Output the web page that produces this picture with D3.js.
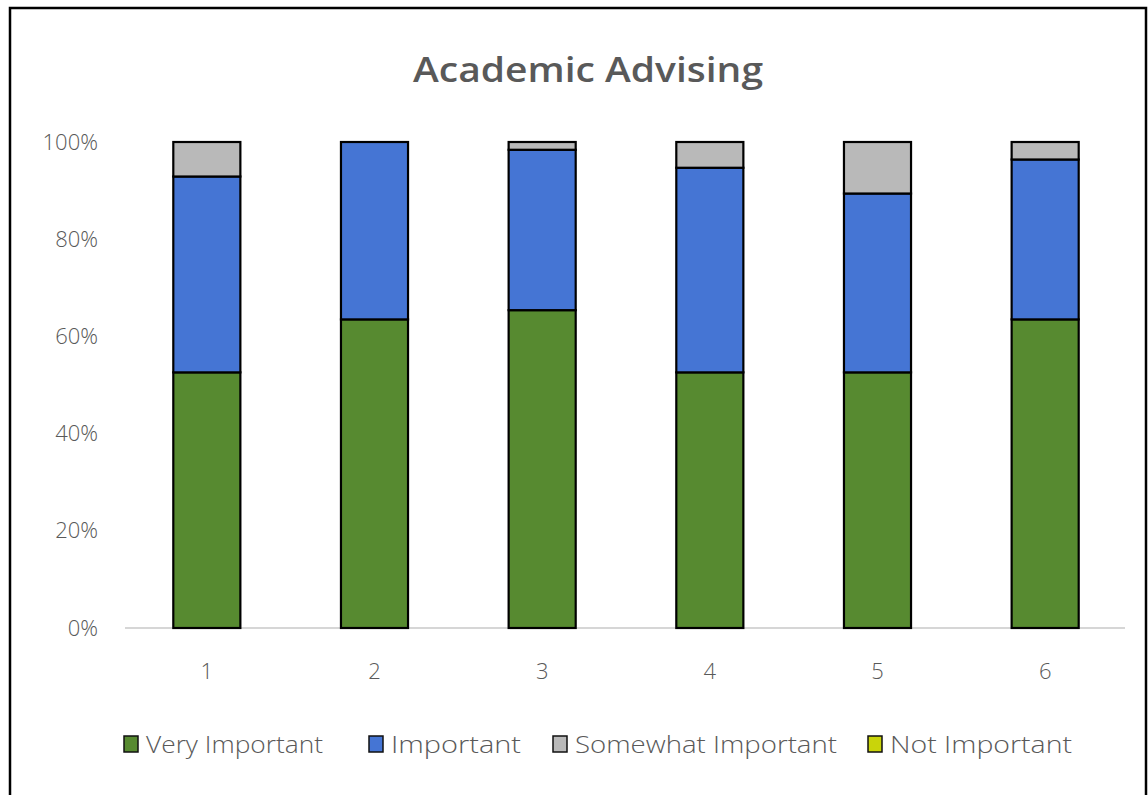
<!DOCTYPE html>
<html>
<head>
<meta charset="utf-8">
<script src="https://cdn.jsdelivr.net/npm/d3@7"></script>
<style>
  html, body { margin: 0; padding: 0; background: #fff; }
  svg { display: block; }
  text { font-family: "Open Sans", "Noto Sans", sans-serif; fill: #595959; }
</style>
</head>
<body>
<svg id="chart" width="1148" height="795"></svg>
<script>
// Survey categories (x axis)
const categories = ["1", "2", "3", "4", "5", "6"];

// Share of responses per category, in percent
const veryImportant     = [52.6, 63.5, 65.4, 52.6, 52.6, 63.5];
const important         = [40.3, 36.5, 33.0, 42.1, 36.8, 32.9];
const somewhatImportant = [7.1, 0.0, 1.6, 5.3, 10.6, 3.6];
const notImportant      = [0.0, 0.0, 0.0, 0.0, 0.0, 0.0];

const seriesNames = ["Very Important", "Important", "Somewhat Important", "Not Important"];
const seriesColors = ["#578a30", "#4575d4", "#b9b9b9", "#c9d40a"];
const yTicks = [0, 20, 40, 60, 80, 100];

const title = "Academic Advising";

// Rows for d3.stack
const rows = categories.map((c, i) => ({
  cat: c,
  "Very Important": veryImportant[i],
  "Important": important[i],
  "Somewhat Important": somewhatImportant[i],
  "Not Important": notImportant[i]
}));

const svg = d3.select("#chart");

// Outer frame
svg.append("rect")
  .attr("x", 10).attr("y", 8)
  .attr("width", 1136).attr("height", 800)
  .attr("fill", "#fff")
  .attr("stroke", "#000")
  .attr("stroke-width", 2.5);

const margin = { left: 123, right: 19, top: 142, bottom: 167 };
const W = 1148, H = 795;

const x = d3.scaleBand()
  .domain(categories)
  .range([margin.left, W - margin.right])
  .paddingInner(0.6)
  .paddingOuter(0.3);

const y = d3.scaleLinear()
  .domain([0, 100])
  .range([H - margin.bottom, margin.top]);

// Title
svg.append("text")
  .attr("x", 588).attr("y", 82)
  .attr("text-anchor", "middle")
  .attr("font-size", 34)
  .attr("font-weight", 600)
  .attr("textLength", 350)
  .attr("lengthAdjust", "spacingAndGlyphs")
  .style("fill", "#595959")
  .text(title);

// Y axis labels
const yAxis = d3.axisLeft(y)
  .tickValues(yTicks)
  .tickFormat(d => d + "%")
  .tickSize(0)
  .tickPadding(25);

const gy = svg.append("g")
  .attr("transform", `translate(${margin.left},0)`)
  .call(yAxis);
gy.select(".domain").remove();
gy.selectAll("text")
  .attr("font-size", 22)
  .attr("font-weight", 300)
  .style("font-family", "'Open Sans', sans-serif")
  .style("fill", "#595959");

// X axis baseline and labels
const xAxis = d3.axisBottom(x).tickSize(0).tickPadding(35);
const gx = svg.append("g")
  .attr("transform", `translate(0,${y(0)})`)
  .call(xAxis);
gx.select(".domain")
  .attr("stroke", "#c8c8c8")
  .attr("stroke-width", 1.5)
  .attr("d", `M${margin.left + 2},0H${W - margin.right - 4}`);
gx.selectAll("text")
  .attr("font-size", 22)
  .attr("font-weight", 300)
  .style("font-family", "'Open Sans', sans-serif")
  .style("fill", "#595959");

// Stacked bars
const stack = d3.stack().keys(seriesNames);
const layers = stack(rows);

svg.append("g")
  .selectAll("g")
  .data(layers)
  .join("g")
  .attr("fill", (d, i) => seriesColors[i])
  .selectAll("rect")
  .data(d => d.filter(s => s[1] - s[0] > 0))
  .join("rect")
  .attr("x", d => x(d.data.cat))
  .attr("width", x.bandwidth())
  .attr("y", d => y(d[1]))
  .attr("height", d => y(d[0]) - y(d[1]))
  .attr("stroke", "#000")
  .attr("stroke-width", 2.2);

// Legend
const legendX = [124, 369, 553, 868];
const legendW = [177, 130, 262, 182];
const legend = svg.append("g").attr("transform", "translate(0,745)");
seriesNames.forEach((name, i) => {
  const g = legend.append("g").attr("transform", `translate(${legendX[i]},0)`);
  g.append("rect")
    .attr("x", 0).attr("y", -9)
    .attr("width", 14).attr("height", 16)
    .attr("fill", seriesColors[i])
    .attr("stroke", "#111")
    .attr("stroke-width", 1.5);
  g.append("text")
    .attr("x", 22).attr("y", 8)
    .attr("font-size", 23)
    .attr("font-weight", 300)
    .attr("textLength", legendW[i])
    .attr("lengthAdjust", "spacingAndGlyphs")
    .text(name);
});
</script>
</body>
</html>
